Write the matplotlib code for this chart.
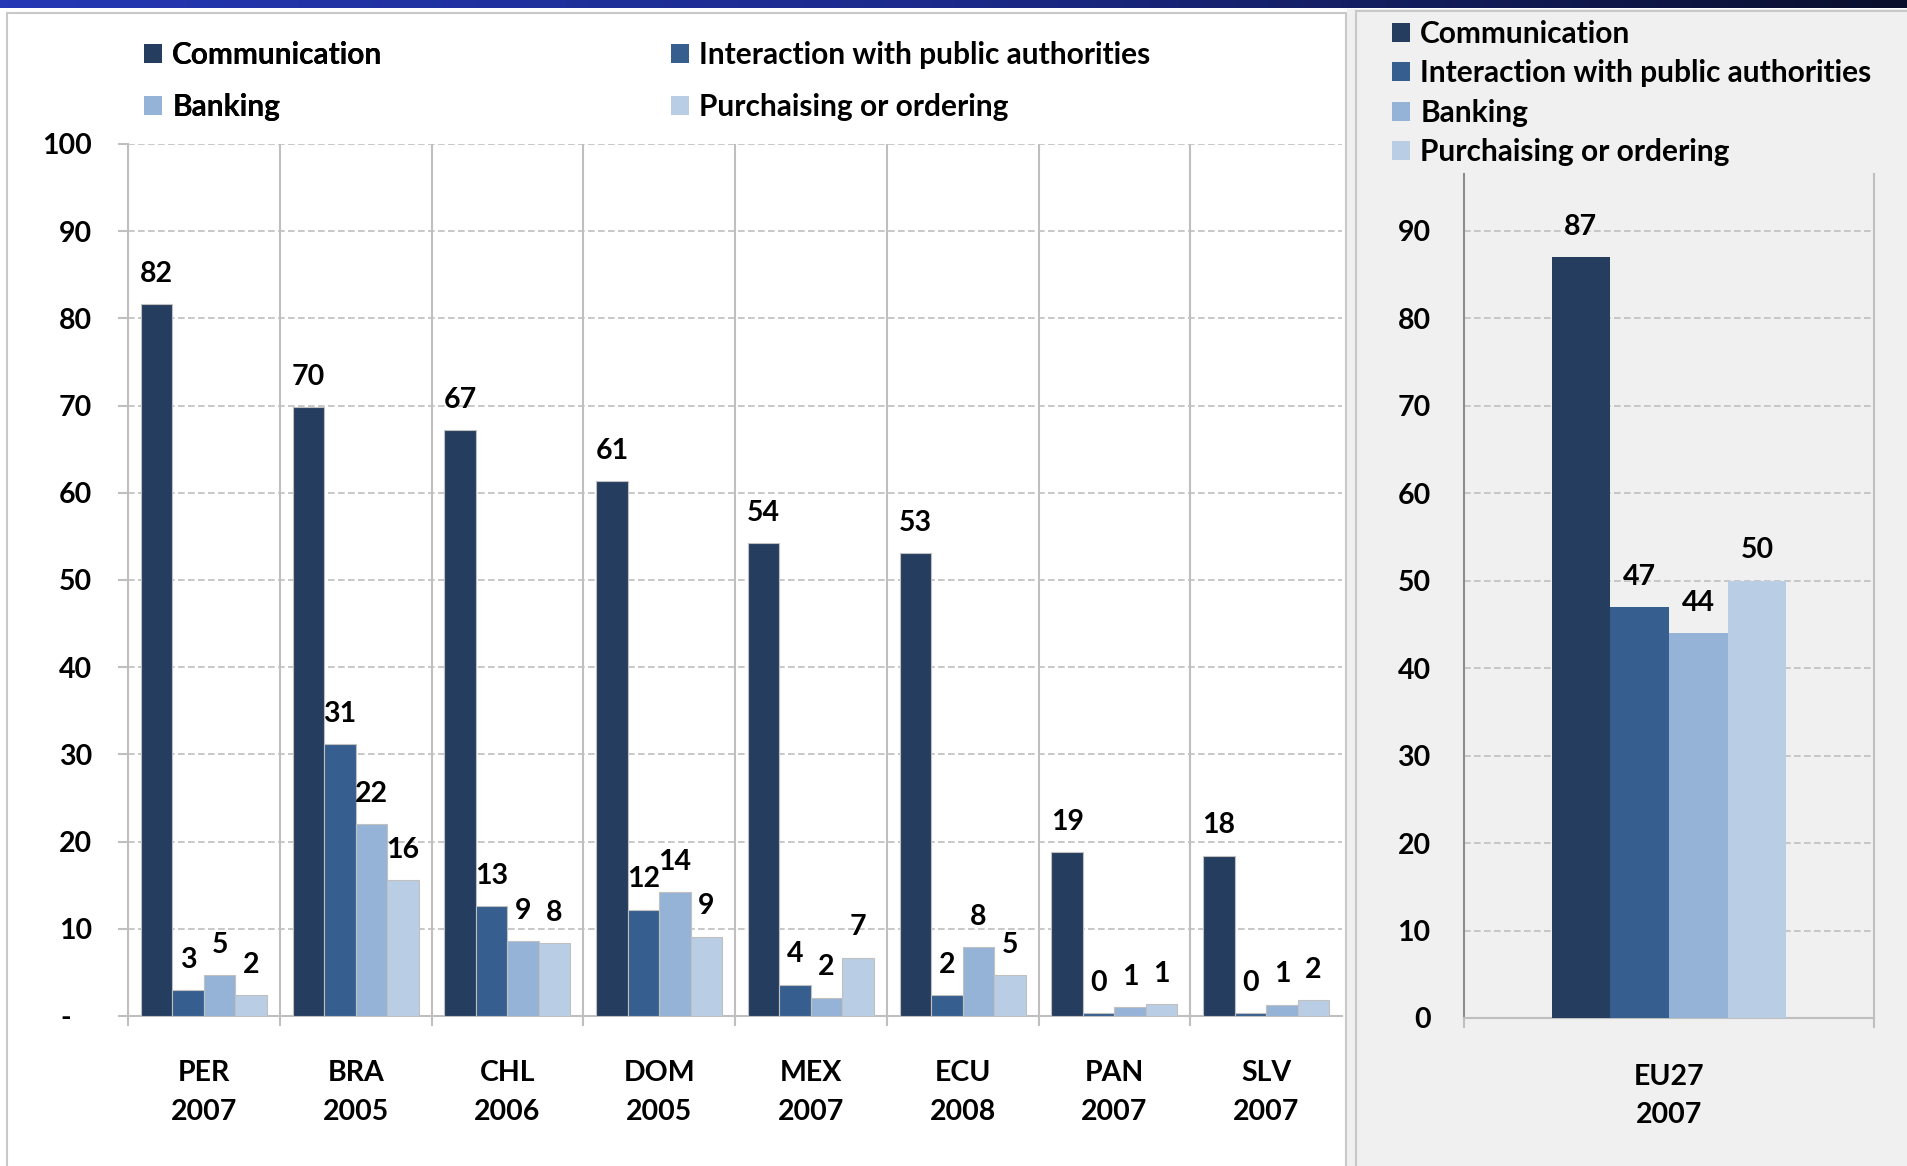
import matplotlib

matplotlib.use("Agg")
import matplotlib.pyplot as plt  # noqa: E402
import numpy as np  # noqa: E402
from matplotlib.colors import LinearSegmentedColormap  # noqa: E402
from matplotlib.patches import Patch, Rectangle  # noqa: E402

plt.rcParams["font.family"] = ["Lato", "DejaVu Sans"]
plt.rcParams["font.weight"] = "bold"

# --- data -------------------------------------------------------------
SERIES = ["Communication", "Interaction with public authorities",
          "Banking", "Purchaising or ordering"]
COLORS = ["#253D5E", "#365F8F", "#95B3D7", "#B9CDE5"]

COUNTRIES = ["PER", "BRA", "CHL", "DOM", "MEX", "ECU", "PAN", "SLV"]
YEARS = ["2007", "2005", "2006", "2005", "2007", "2008", "2007", "2007"]

communication = [81.6, 69.8, 67.2, 61.3, 54.2, 53.1, 18.8, 18.4]
interaction = [3.0, 31.2, 12.6, 12.2, 3.6, 2.4, 0.3, 0.3]
banking = [4.7, 22.0, 8.6, 14.2, 2.1, 7.9, 1.0, 1.3]
purchasing = [2.4, 15.6, 8.4, 9.1, 6.7, 4.7, 1.4, 1.8]

EU_COUNTRY = "EU27"
EU_YEAR = "2007"
eu27 = [87.0, 47.0, 44.0, 50.0]

LEFT_YTICKS = [0, 10, 20, 30, 40, 50, 60, 70, 80, 90, 100]
LEFT_YLABELS = ["-   ", "10", "20", "30", "40", "50", "60", "70", "80", "90", "100"]
RIGHT_YTICKS = [0, 10, 20, 30, 40, 50, 60, 70, 80, 90]

W, H = 1908, 1166
FS = 20.5
LEG_FS = 21.5
GRID = "#BFBFBF"


def fx(px):
    return px / W


def fy(px):
    return 1 - px / H


def label_bars(ax, bars, values):
    for b, v in zip(bars, values):
        ax.annotate(f"{v:.0f}", (b.get_x() + b.get_width() / 2, b.get_height()),
                    xytext=(0, 16), textcoords="offset points",
                    ha="center", va="baseline", fontsize=FS, fontweight="bold")


fig = plt.figure(figsize=(W / 100, H / 100), dpi=100)

# panel backgrounds / frames
fig.add_artist(Rectangle((fx(7), -0.01), fx(1346 - 7), fy(13) + 0.01,
                         transform=fig.transFigure, facecolor="white",
                         edgecolor="#C8C8C8", linewidth=1.5, zorder=-2))
fig.add_artist(Rectangle((fx(1347), -0.01), 1, fy(9) + 0.01,
                         transform=fig.transFigure, facecolor="#F0F0F0",
                         edgecolor="none", zorder=-3))
fig.add_artist(Rectangle((fx(1356), -0.01), 1, fy(11) + 0.01,
                         transform=fig.transFigure, facecolor="#F0F0F0",
                         edgecolor="#C8C8C8", linewidth=1.5, zorder=-2))

# gradient strip along the top
top = fig.add_axes([0, fy(8), 1, 8 / H])
cmap = LinearSegmentedColormap.from_list("strip", ["#2537B4", "#1B2A8A", "#0A0F2C"])
top.imshow(np.linspace(0, 1, 256)[None, :], aspect="auto", cmap=cmap)
top.axis("off")

# --- left panel: countries ---------------------------------------------
ax = fig.add_axes([fx(128), fy(1016), fx(1342 - 128), (1016 - 144) / H])
ax.set_facecolor("none")
x = np.arange(len(COUNTRIES))
w = 0.83 / 4
for i, vals in enumerate([communication, interaction, banking, purchasing]):
    bars = ax.bar(x + (i - 1.5) * w, vals, w, color=COLORS[i],
                  edgecolor="#C0C0C0", linewidth=0.8, zorder=3)
    label_bars(ax, bars, vals)

ax.set_xlim(-0.5, len(COUNTRIES) - 0.5)
ax.set_ylim(0, 100)
ax.set_yticks(LEFT_YTICKS)
ax.set_yticklabels(LEFT_YLABELS)
ax.set_xticks(x)
ax.set_xticklabels([f"{c}\n{y}" for c, y in zip(COUNTRIES, YEARS)],
                   linespacing=1.6)
ax.set_xticks(np.arange(-0.5, len(COUNTRIES) - 1), minor=True)
ax.tick_params(axis="x", which="major", length=0, pad=32, labelsize=FS)
ax.tick_params(axis="x", which="minor", length=7, width=1.5, color=GRID)
ax.tick_params(axis="y", length=7, width=1.5, color=GRID, pad=19, labelsize=FS)
ax.grid(axis="y", which="major", color=GRID, linestyle=(0, (4, 2)), linewidth=1.2)
ax.grid(axis="x", which="minor", color=GRID, linestyle="-", linewidth=1.5)
ax.set_axisbelow(True)
for s in ("top", "right"):
    ax.spines[s].set_visible(False)
for s in ("left", "bottom"):
    ax.spines[s].set_color(GRID)
    ax.spines[s].set_linewidth(1.5)

handles = [Patch(facecolor=c, edgecolor="none") for c in COLORS]
leg_kw = dict(frameon=False, fontsize=LEG_FS, handlelength=0.6, handleheight=0.6,
              handletextpad=0.35, borderpad=0, borderaxespad=0,
              loc="upper left", bbox_transform=fig.transFigure)
leg1 = fig.legend([handles[0], handles[2]], [SERIES[0], SERIES[2]],
                  bbox_to_anchor=(fx(144), fy(41)), labelspacing=0.8, **leg_kw)
fig.legend([handles[1], handles[3]], [SERIES[1], SERIES[3]],
           bbox_to_anchor=(fx(671), fy(41)), labelspacing=0.8, **leg_kw)
fig.add_artist(leg1)

# --- right panel: EU27 --------------------------------------------------
ax2 = fig.add_axes([fx(1464), fy(1018), fx(1874 - 1464), (1018 - 174) / H])
ax2.set_facecolor("none")
w2 = 0.573 / 4
for i, v in enumerate(eu27):
    bars = ax2.bar([(i - 1.5) * w2], [v], w2, color=COLORS[i], zorder=3)
    label_bars(ax2, bars, [v])
ax2.set_xlim(-0.5, 0.5)
ax2.set_ylim(0, 96.5)
ax2.set_yticks(RIGHT_YTICKS)
ax2.set_xticks([0])
ax2.set_xticklabels([f"{EU_COUNTRY}\n{EU_YEAR}"], linespacing=1.6)
ax2.set_xticks([-0.5, 0.5], minor=True)
ax2.tick_params(axis="x", which="major", length=0, pad=33, labelsize=FS)
ax2.tick_params(axis="x", which="minor", length=7, width=1.5, color=GRID)
ax2.tick_params(axis="y", length=0, pad=24, labelsize=FS)
ax2.grid(axis="y", color=GRID, linestyle=(0, (4, 2)), linewidth=1.2)
ax2.set_axisbelow(True)
ax2.spines["top"].set_visible(False)
for s in ("left", "right", "bottom"):
    ax2.spines[s].set_color(GRID)
    ax2.spines[s].set_linewidth(1.5)
ax2.spines["left"].set_color("#8C8C8C")

fig.legend(handles, SERIES, bbox_to_anchor=(fx(1392), fy(20)),
           labelspacing=0.38, **leg_kw)

fig.savefig("out.png", dpi=100)
